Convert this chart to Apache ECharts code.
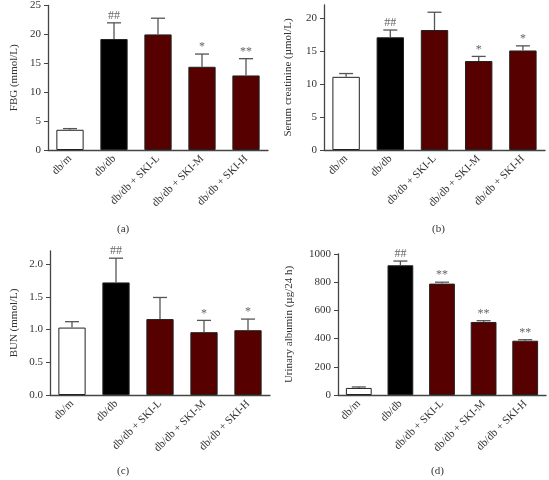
<!DOCTYPE html>
<html>
<head>
<meta charset="utf-8">
<script src="https://cdn.jsdelivr.net/npm/echarts@6/dist/echarts.min.js"></script>
<style>
  html, body { margin: 0; padding: 0; background: #fff; }
  #chart { width: 549px; height: 480px; }
</style>
</head>
<body>
<div id="chart"></div>
<script>
const groups = ['db/m', 'db/db', 'db/db + SKI-L', 'db/db + SKI-M', 'db/db + SKI-H'];
const barColors = ['#ffffff', '#000000', '#560000', '#560000', '#560000'];

// (a) FBG
const fbgMean = [3.5, 19.2, 20.0, 14.4, 12.9];
const fbgTop = [3.7, 22.0, 22.8, 16.6, 15.8];
const fbgSig = ['', '##', '', '*', '**'];

// (b) serum creatinine
const scrMean = [11.1, 17.1, 18.2, 13.5, 15.1];
const scrTop = [11.6, 18.2, 20.9, 14.2, 15.8];
const scrSig = ['', '##', '', '*', '*'];

// (c) BUN
const bunMean = [1.03, 1.72, 1.16, 0.96, 0.99];
const bunTop = [1.12, 2.09, 1.49, 1.14, 1.16];
const bunSig = ['', '##', '', '*', '*'];

// (d) urinary albumin
const albMean = [50, 920, 790, 518, 385];
const albTop = [57, 950, 800, 527, 392];
const albSig = ['', '##', '**', '**', '**'];

const font = 'Liberation Serif';
const axisColor = '#444';
const textColor = '#333';

const panels = [
  { name: 'FBG (mmol/L)', mean: fbgMean, top: fbgTop, sig: fbgSig,
    grid: { left: 48, top: 5, width: 220, height: 145 },
    max: 25, ticks: [0, 5, 10, 15, 20, 25], nameGap: 28, digits: 0 },
  { name: 'Serum creatinine (\u00b5mol/L)', mean: scrMean, top: scrTop, sig: scrSig,
    grid: { left: 324, top: 5, width: 221, height: 145 },
    max: 22, ticks: [0, 5, 10, 15, 20], nameGap: 30, digits: 0 },
  { name: 'BUN (mmol/L)', mean: bunMean, top: bunTop, sig: bunSig,
    grid: { left: 50, top: 251, width: 220, height: 144 },
    max: 2.2, ticks: [0, 0.5, 1.0, 1.5, 2.0], nameGap: 30, digits: 1 },
  { name: 'Urinary albumin (\u00b5g/24 h)', mean: albMean, top: albTop, sig: albSig,
    grid: { left: 338, top: 254, width: 208, height: 141 },
    max: 1000, ticks: [0, 200, 400, 600, 800, 1000], nameGap: 43, digits: 0 }
];

function errorRender(params, api) {
  const i = api.value(0);
  const p0 = api.coord([i, api.value(1)]);
  const p1 = api.coord([i, api.value(2)]);
  const sig = api.value(3);
  const style = { stroke: '#555', lineWidth: 1.3 };
  const children = [
    { type: 'line', shape: { x1: p0[0], y1: p0[1], x2: p1[0], y2: p1[1] }, style: style },
    { type: 'line', shape: { x1: p1[0] - 7, y1: p1[1], x2: p1[0] + 7, y2: p1[1] }, style: style }
  ];
  if (sig) {
    children.push({
      type: 'text',
      style: {
        text: sig, x: p1[0], y: p1[1] - 1,
        align: 'center', verticalAlign: 'bottom',
        fill: '#666', font: '12px "' + font + '"'
      }
    });
  }
  return { type: 'group', children: children };
}

const option = {
  animation: false,
  grid: [],
  xAxis: [],
  yAxis: [],
  series: [],
  graphic: [
    ['(a)', 125, 231], ['(b)', 440, 231], ['(c)', 125, 473], ['(d)', 439, 473]
  ].map(([t, x, y]) => ({
    type: 'text', left: x - 8, top: y - 7,
    style: { text: t, fill: textColor, font: '11px "' + font + '"' }
  }))
};

panels.forEach((p, k) => {
  option.grid.push(p.grid);
  option.xAxis.push({
    type: 'category', gridIndex: k, data: groups,
    axisLine: { lineStyle: { color: axisColor, width: 1.3 } },
    axisTick: { alignWithLabel: true, length: 4, lineStyle: { color: axisColor } },
    axisLabel: { rotate: 45, margin: 7, color: textColor, fontFamily: font, fontSize: 11, interval: 0 }
  });
  option.yAxis.push({
    type: 'value', gridIndex: k, min: 0, max: p.max,
    name: p.name, nameLocation: 'middle', nameGap: p.nameGap,
    nameTextStyle: { color: textColor, fontFamily: font, fontSize: 11 },
    splitLine: { show: false },
    axisLine: { show: true, lineStyle: { color: axisColor, width: 1.3 } },
    axisTick: { show: true, length: 4, customValues: p.ticks, lineStyle: { color: axisColor } },
    axisLabel: {
      customValues: p.ticks, color: textColor, fontFamily: font, fontSize: 11, margin: 7,
      formatter: v => v.toFixed(p.digits)
    }
  });
  option.series.push({
    type: 'bar', xAxisIndex: k, yAxisIndex: k,
    barCategoryGap: '38%',
    data: p.mean.map((v, i) => ({
      value: v,
      itemStyle: { color: barColors[i], borderColor: '#222', borderWidth: 1 }
    }))
  });
  option.series.push({
    type: 'custom', xAxisIndex: k, yAxisIndex: k, z: 3,
    renderItem: errorRender,
    data: p.mean.map((v, i) => [i, v, p.top[i], p.sig[i]])
  });
});

echarts.init(document.getElementById('chart')).setOption(option);
</script>
</body>
</html>
